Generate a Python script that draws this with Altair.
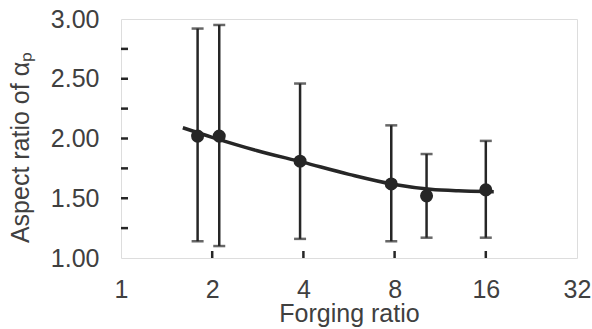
import altair as alt
import pandas as pd

# Data
forging_ratio = [1.79, 2.11, 3.9, 7.8, 10.2, 16.0]
aspect_mean = [2.02, 2.02, 1.81, 1.62, 1.52, 1.57]
aspect_low = [1.14, 1.10, 1.16, 1.14, 1.17, 1.17]
aspect_high = [2.92, 2.95, 2.46, 2.11, 1.87, 1.98]

trend_x = [1.6, 2.0, 2.8, 4.0, 5.66, 8.0, 10.5, 13.0, 16.0, 17.0]
trend_y = [2.09, 2.01, 1.90, 1.80, 1.70, 1.615, 1.575, 1.562, 1.556, 1.555]

x_tick_values = [1, 2, 4, 8, 16, 32]
y_tick_values = [1.0, 1.5, 2.0, 2.5, 3.0]
y_minor_ticks = [1.25, 1.5, 1.75, 2.0, 2.25, 2.5, 2.75]
x_inner_ticks = [2, 4, 8, 16]

W, H = 456, 239
INK = "#262626"
TXT = "#404040"
FONT = "Liberation Sans"

pts = pd.DataFrame({"x": forging_ratio, "y": aspect_mean, "lo": aspect_low, "hi": aspect_high})
trend = pd.DataFrame({"x": trend_x, "y": trend_y})
yt = pd.DataFrame({"y": y_minor_ticks})
xt = pd.DataFrame({"x": x_inner_ticks})

xscale = alt.Scale(type="log", base=2, domain=[1, 32])
yscale = alt.Scale(domain=[1, 3])

xaxis = alt.Axis(values=x_tick_values, format="d", title="Forging ratio",
                 grid=False, ticks=False, tickSize=0, domain=False,
                 labelFontSize=25, labelFont=FONT, labelColor=TXT, labelPadding=19,
                 labelFlush=False, labelOverlap=False,
                 titleFontSize=25, titleFont=FONT, titleColor=TXT, titleFontWeight="normal",
                 titleBaseline="alphabetic", titleY=63)
yaxis = alt.Axis(values=y_tick_values, format=".2f", title="Aspect ratio of αₚ",
                 grid=False, ticks=False, tickSize=0, domain=False,
                 labelFontSize=25, labelFont=FONT, labelColor=TXT, labelPadding=22,
                 labelFlush=False, labelOverlap=False,
                 titleFontSize=25, titleFont=FONT, titleColor=TXT, titleFontWeight="normal",
                 titleBaseline="alphabetic", titleX=-93, titleY=128, titleAngle=270)

base_x = alt.X("x:Q", scale=xscale, axis=xaxis)

bars = alt.Chart(pts).mark_rule(color=INK, strokeWidth=2.5).encode(
    x=base_x,
    y=alt.Y("lo:Q", scale=yscale, axis=yaxis),
    y2="hi:Q",
)
cap_lo = alt.Chart(pts).mark_tick(color=INK, size=12, thickness=2.5, orient="horizontal").encode(
    x=alt.X("x:Q", scale=xscale), y=alt.Y("lo:Q", scale=yscale))
cap_hi = alt.Chart(pts).mark_tick(color=INK, size=12, thickness=2.5, orient="horizontal").encode(
    x=alt.X("x:Q", scale=xscale), y=alt.Y("hi:Q", scale=yscale))
line = alt.Chart(trend).mark_line(color=INK, strokeWidth=3.5, interpolate="monotone").encode(
    x=alt.X("x:Q", scale=xscale), y=alt.Y("y:Q", scale=yscale))
dots = alt.Chart(pts).mark_circle(color=INK, opacity=1, size=170).encode(
    x=alt.X("x:Q", scale=xscale), y=alt.Y("y:Q", scale=yscale))
yticks = alt.Chart(yt).mark_rule(color=INK, strokeWidth=2.5).encode(
    y=alt.Y("y:Q", scale=yscale), x=alt.value(0), x2=alt.value(7))
xticks = alt.Chart(xt).mark_rule(color=INK, strokeWidth=2.5).encode(
    x=alt.X("x:Q", scale=xscale), y=alt.value(H), y2=alt.value(H - 7))

chart = alt.layer(bars, cap_lo, cap_hi, line, dots, yticks, xticks).properties(
    width=W, height=H,
    autosize=alt.AutoSizeParams(type="none"),
    padding={"left": 121, "top": 19, "right": 15, "bottom": 71},
).configure_view(stroke=INK, strokeWidth=2.5).configure(background="white")

chart.save("out.html", embed_options={"renderer": "svg", "actions": False})
